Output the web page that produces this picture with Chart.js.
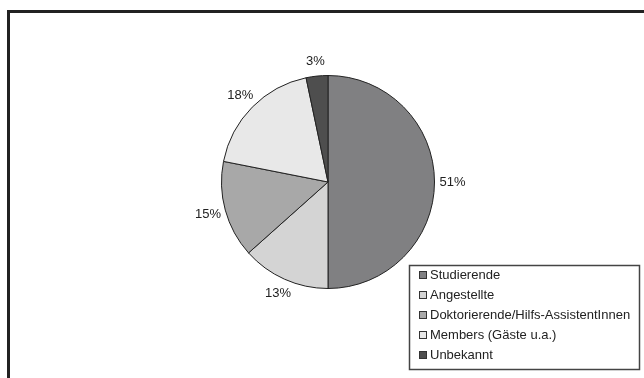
<!DOCTYPE html>
<html>
<head>
<meta charset="utf-8">
<script src="https://cdn.jsdelivr.net/npm/chart.js@4.4.0/dist/chart.umd.min.js"></script>
<style>
  body { margin: 0; background: #fff; }
  .wrap { position: relative; width: 644px; height: 378px; overflow: hidden; }
  .frame {
    position: absolute; left: 7px; top: 10px; right: -10px; bottom: -10px;
    border-left: 3px solid #222; border-top: 3px solid #222;
  }
  canvas { position: absolute; left: 0; top: 0; }
</style>
</head>
<body>
<div class="wrap">
  <div class="frame"></div>
  <canvas id="myChart" width="644" height="378"></canvas>
</div>
<script>
const labels = [
  "Studierende",
  "Angestellte",
  "Doktorierende/Hilfs-AssistentInnen",
  "Members (Gäste u.a.)",
  "Unbekannt"
];
// slice sizes as drawn in the picture
const sliceValues = [50, 13.4, 14.7, 18.6, 3.3];
// percentages as printed next to the slices
const percentLabels = ["51%", "13%", "15%", "18%", "3%"];
const colors = ["#808082", "#d4d4d4", "#a8a8a8", "#e8e8e8", "#4e4e4e"];

const FONT = "13px 'Liberation Sans', Arial, sans-serif";

/* percent labels just outside each slice */
const outsideLabels = {
  id: "outsideLabels",
  afterDatasetsDraw(chart) {
    const { ctx } = chart;
    const meta = chart.getDatasetMeta(0);
    ctx.save();
    ctx.font = FONT;
    ctx.fillStyle = "#222";
    ctx.textAlign = "center";
    ctx.textBaseline = "middle";
    meta.data.forEach((arc, i) => {
      const mid = (arc.startAngle + arc.endAngle) / 2;
      // wider text needs a bit more room sideways than up/down
      const r = arc.outerRadius + 14 + 4 * Math.abs(Math.cos(mid));
      const x = arc.x + Math.cos(mid) * r;
      const y = arc.y + Math.sin(mid) * r;
      ctx.fillText(percentLabels[i], x, y);
    });
    ctx.restore();
  }
};

/* boxed legend at the bottom right */
const boxLegend = {
  id: "boxLegend",
  afterDraw(chart) {
    const { ctx } = chart;
    ctx.save();
    ctx.strokeStyle = "#444";
    ctx.lineWidth = 1.5;
    ctx.strokeRect(409.5, 265.5, 230, 104);
    ctx.font = FONT;
    ctx.textBaseline = "middle";
    labels.forEach((lab, i) => {
      const y = 275 + i * 20;
      ctx.fillStyle = colors[i];
      ctx.fillRect(419.5, y - 3.5, 7, 7);
      ctx.strokeStyle = "#333";
      ctx.lineWidth = 1;
      ctx.strokeRect(419.5, y - 3.5, 7, 7);
      ctx.fillStyle = "#222";
      ctx.fillText(lab, 430, y + 0.5);
    });
    ctx.restore();
  }
};

const canvas = document.getElementById("myChart");
new Chart(canvas.getContext("2d"), {
  type: "pie",
  data: {
    labels: labels,
    datasets: [{
      data: sliceValues,
      backgroundColor: colors,
      borderColor: "#222",
      borderWidth: 1
    }]
  },
  options: {
    responsive: false,
    animation: false,
    layout: { padding: { left: 221, right: 209, top: 75, bottom: 89 } },
    plugins: {
      legend: { display: false },
      tooltip: { enabled: false }
    }
  },
  plugins: [outsideLabels, boxLegend]
});
</script>
</body>
</html>
